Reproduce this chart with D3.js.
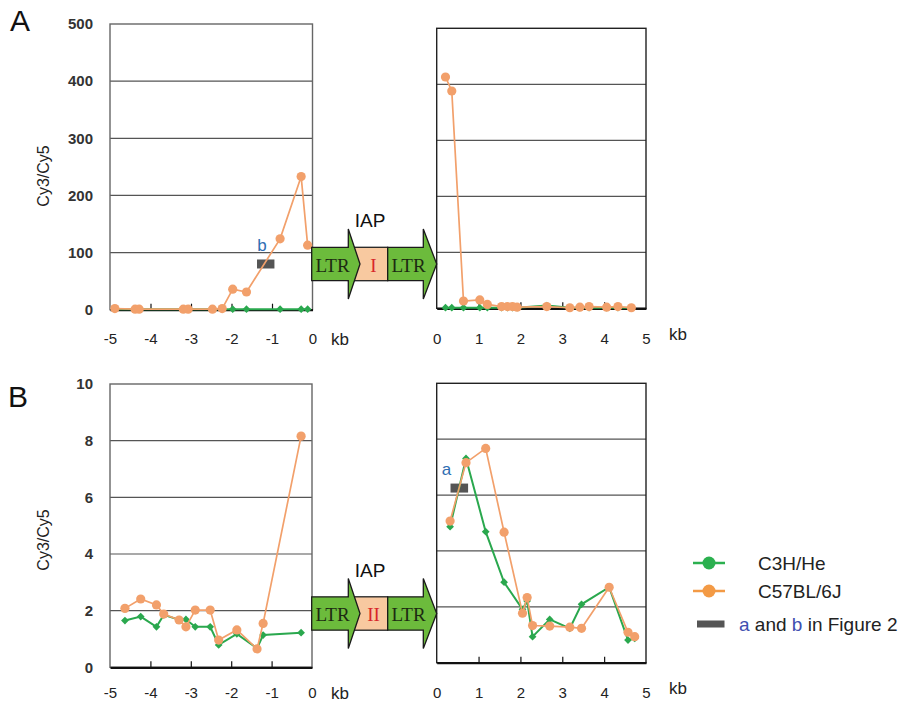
<!DOCTYPE html>
<html>
<head>
<meta charset="utf-8">
<script src="https://cdn.jsdelivr.net/npm/d3@7"></script>
<style>
  body { margin: 0; background: #fff; }
  svg { display: block; font-family: "Liberation Sans", Arial, sans-serif; }
</style>
</head>
<body>
<svg id="chart" width="906" height="703"></svg>
<script>
// panel A, upstream of the IAP (kb)
const aLeftKb  = [-4.88, -4.38, -4.28, -3.19, -3.07, -2.47, -2.23, -1.97, -1.63, -0.80, -0.28, -0.12];
const aLeftC57 = [2, 1, 1, 1, 1, 1, 2, 36, 31, 124, 233, 113];
const aLeftC3H = [1, 1, 1, 1, 1, 1, 1, 1, 1, 1, 1, 1];

// panel A, downstream
const aRightKb  = [0.21, 0.36, 0.64, 1.03, 1.21, 1.55, 1.69, 1.81, 1.92, 2.63, 3.18, 3.42, 3.64, 4.06, 4.33, 4.65];
const aRightC57 = [413, 388, 13, 15, 7, 3, 3, 3, 2, 3, 1, 2, 3, 2, 3, 1];
const aRightC3H = [1, 1, 1, 1, 1, 1, 1, 1, 1, 5, 1, 1, 1, 1, 1, 1];

// panel B, upstream
const bLeftKb  = [-4.63, -4.24, -3.85, -3.67, -3.29, -3.12, -2.89, -2.52, -2.31, -1.86, -1.36, -1.21, -0.27];
const bLeftC57 = [2.08, 2.41, 2.20, 1.88, 1.67, 1.43, 2.02, 2.02, 0.96, 1.32, 0.65, 1.55, 8.16];
const bLeftC3H = [1.65, 1.79, 1.43, 1.85, 1.68, 1.69, 1.43, 1.43, 0.79, 1.18, 0.67, 1.14, 1.22];

// panel B, downstream
const bRightKb  = [0.32, 0.70, 1.17, 1.61, 2.05, 2.16, 2.29, 2.70, 3.18, 3.46, 4.12, 4.57, 4.73];
const bRightC57 = [5.07, 7.16, 7.67, 4.67, 1.77, 2.33, 1.33, 1.31, 1.27, 1.23, 2.70, 1.09, 0.93];
const bRightC3H = [4.87, 7.31, 4.69, 2.88, 1.91, 2.21, 0.93, 1.55, 1.23, 2.09, 2.70, 0.81, 0.87];

// tick labels
const yTicksA = [0, 100, 200, 300, 400, 500];
const yTicksB = [0, 2, 4, 6, 8, 10];
const xTicksLeft = [-5, -4, -3, -2, -1, 0];
const xTicksRight = [0, 1, 2, 3, 4, 5];

// probe regions "a" and "b" (kb from, kb to, level)
const probeB = { name: 'b', x0: -1.37, x1: -0.94, y: 80 };
const probeA = { name: 'a', x0: 0.33, x1: 0.75, y: 6.25 };

const legendItems = ['C3H/He', 'C57BL/6J'];

const GREEN = '#2aa84e';
const ORANGE = '#f2a06b';
const svg = d3.select('#chart');

function drawPlot(p) {
    const x = d3.scaleLinear().domain(p.xDomain).range([p.left, p.right]);
    const y = d3.scaleLinear().domain(p.yDomain).range([p.bottom, p.top]);
    const g = svg.append('g');

    // gridlines
    g.append('g').selectAll('line')
        .data(p.yTicks.slice(1, -1))
        .join('line')
        .attr('x1', p.left).attr('x2', p.right)
        .attr('y1', d => y(d)).attr('y2', d => y(d))
        .attr('stroke', '#555').attr('stroke-width', 1.2);

    // frame
    g.append('rect')
        .attr('x', p.left).attr('y', p.top)
        .attr('width', p.right - p.left).attr('height', p.bottom - p.top)
        .attr('fill', 'none')
        .attr('stroke', p.frame).attr('stroke-width', 1.4);

    // bottom axis with inner ticks
    g.append('g')
        .attr('transform', `translate(0,${p.bottom})`)
        .call(d3.axisTop(x).tickValues(p.xTicks.slice(1, -1)).tickSize(6).tickSizeOuter(0).tickFormat(''))
        .call(a => a.select('.domain').attr('stroke', '#111').attr('stroke-width', 2.2))
        .call(a => a.selectAll('.tick line').attr('stroke', '#111').attr('stroke-width', 1.2));

    // x tick labels
    g.append('g')
        .attr('transform', `translate(0,${p.labelY - 5.5})`)
        .call(d3.axisBottom(x).tickValues(p.xTicks).tickSize(0).tickPadding(0).tickFormat(d => String(d)))
        .call(a => a.select('.domain').remove())
        .call(a => a.selectAll('text')
            .attr('font-family', '"Liberation Sans", Arial, sans-serif')
            .attr('font-size', 15).attr('fill', '#222'));

    g.append('text')
        .attr('x', p.kbX).attr('y', p.kbY)
        .attr('text-anchor', 'middle').attr('dominant-baseline', 'central')
        .attr('font-size', 17).attr('fill', '#222')
        .text('kb');

    if (p.showY) {
        g.append('g')
            .attr('transform', `translate(${p.left},0)`)
            .call(d3.axisLeft(y).tickValues(p.yTicks).tickSize(0).tickPadding(17))
            .call(a => a.select('.domain').remove())
            .call(a => a.selectAll('text')
                .attr('font-family', '"Liberation Sans", Arial, sans-serif')
                .attr('font-size', 15).attr('font-weight', 'bold').attr('fill', '#333'));

        g.append('text')
            .attr('transform', `translate(43,${p.yTitleY}) rotate(-90)`)
            .attr('text-anchor', 'middle').attr('dominant-baseline', 'central')
            .attr('font-size', 16).attr('fill', '#222')
            .text('Cy3/Cy5');
    }

    // probe bar + letter
    if (p.probe) {
        const pr = p.probe;
        g.append('rect')
            .attr('x', x(pr.x0)).attr('y', y(pr.y) - 4.5)
            .attr('width', x(pr.x1) - x(pr.x0)).attr('height', 9)
            .attr('fill', '#555');
        g.append('text')
            .attr('x', x(pr.x0) + p.probeDx).attr('y', y(pr.y) - 13)
            .attr('text-anchor', 'middle')
            .attr('font-size', 17).attr('fill', '#2f6db2')
            .text(pr.name);
    }

    const line = d3.line().x(d => x(d[0])).y(d => y(d[1]));
    const green = p.kb.map((k, i) => [k, p.c3h[i]]);
    const orange = p.kb.map((k, i) => [k, p.c57[i]]);

    g.append('path').datum(green)
        .attr('d', line).attr('fill', 'none')
        .attr('stroke', GREEN).attr('stroke-width', 2);
    g.append('g').selectAll('path')
        .data(green)
        .join('path')
        .attr('transform', d => `translate(${x(d[0])},${y(d[1])}) rotate(45)`)
        .attr('d', d3.symbol(d3.symbolSquare, 30))
        .attr('fill', GREEN);

    g.append('path').datum(orange)
        .attr('d', line).attr('fill', 'none')
        .attr('stroke', ORANGE).attr('stroke-width', 1.7);
    g.append('g').selectAll('circle')
        .data(orange)
        .join('circle')
        .attr('cx', d => x(d[0])).attr('cy', d => y(d[1]))
        .attr('r', 4.6)
        .attr('fill', ORANGE);
}

drawPlot({ xDomain: [-5, 0], yDomain: [0, 500], left: 110, right: 312.5, top: 24, bottom: 309.7,
    xTicks: xTicksLeft, yTicks: yTicksA, labelY: 339, kbX: 340, kbY: 339, showY: true, yTitleY: 176,
    frame: '#666', kb: aLeftKb, c57: aLeftC57, c3h: aLeftC3H, probe: probeB, probeDx: 5 });
drawPlot({ xDomain: [0, 5], yDomain: [0, 500], left: 436.7, right: 646, top: 28.3, bottom: 308.3,
    xTicks: xTicksRight, yTicks: yTicksA, labelY: 339, kbX: 678, kbY: 334, showY: false,
    frame: '#222', kb: aRightKb, c57: aRightC57, c3h: aRightC3H });
drawPlot({ xDomain: [-5, 0], yDomain: [0, 10], left: 110, right: 312, top: 384, bottom: 667.3,
    xTicks: xTicksLeft, yTicks: yTicksB, labelY: 693, kbX: 340, kbY: 693, showY: true, yTitleY: 540,
    frame: '#666', kb: bLeftKb, c57: bLeftC57, c3h: bLeftC3H });
drawPlot({ xDomain: [0, 5], yDomain: [0, 10], left: 436.7, right: 646, top: 383.3, bottom: 662.7,
    xTicks: xTicksRight, yTicks: yTicksB, labelY: 693, kbX: 678, kbY: 688, showY: false,
    frame: '#222', kb: bRightKb, c57: bRightC57, c3h: bRightC3H, probe: probeA, probeDx: -4 });

// panel letters
svg.append('text').attr('x', 10).attr('y', 31).attr('font-size', 30).attr('fill', '#111').text('A');
svg.append('text').attr('x', 8).attr('y', 407).attr('font-size', 30).attr('fill', '#111').text('B');

// IAP glyph: LTR arrow, internal region, LTR arrow
function drawIAP(cy, numeral) {
    const g = svg.append('g');
    const bh = 16.7, hh = 35;
    g.append('text').attr('x', 370).attr('y', cy - 37)
        .attr('text-anchor', 'middle').attr('font-size', 19).attr('fill', '#111').text('IAP');
    g.append('rect').attr('x', 348.3).attr('y', cy - bh).attr('width', 39.4).attr('height', 2 * bh)
        .attr('fill', '#f8c9a0').attr('stroke', '#222').attr('stroke-width', 1.3);
    const arrow = (x0, x1, tip) => [[x0, cy - bh], [x1, cy - bh], [x1, cy - hh], [tip, cy],
        [x1, cy + hh], [x1, cy + bh], [x0, cy + bh]];
    [[311.7, 348.3, 360], [387.7, 423.3, 436.7]].forEach(a => {
        g.append('path')
            .attr('d', d3.line()(arrow(a[0], a[1], a[2])) + 'Z')
            .attr('fill', '#6cbb3c').attr('stroke', '#1a1a1a').attr('stroke-width', 1.3);
    });
    const serif = '"Liberation Serif", "Times New Roman", serif';
    [[332.5, 'LTR', '#1c2a12'], [408.5, 'LTR', '#1c2a12'], [373.5, numeral, '#d8262a']].forEach(t => {
        g.append('text').attr('x', t[0]).attr('y', cy + 1)
            .attr('text-anchor', 'middle').attr('dominant-baseline', 'central')
            .attr('font-family', serif).attr('font-size', 19).attr('fill', t[2]).text(t[1]);
    });
}
drawIAP(264, 'I');
drawIAP(613.5, 'II');

// legend
const legend = svg.append('g');
legendItems.forEach((name, i) => {
    const ly = 563 + i * 28;
    const col = i === 0 ? '#2bb04f' : '#f39a45';
    legend.append('line').attr('x1', 693).attr('x2', 725).attr('y1', ly).attr('y2', ly)
        .attr('stroke', col).attr('stroke-width', 2.5);
    legend.append('circle').attr('cx', 709).attr('cy', ly).attr('r', 6.5).attr('fill', col);
    legend.append('text').attr('x', 758).attr('y', ly).attr('dominant-baseline', 'central')
        .attr('font-size', 19).attr('fill', '#222').text(name);
});
legend.append('rect').attr('x', 697).attr('y', 620.5).attr('width', 27.5).attr('height', 7).attr('fill', '#555');
const lt = legend.append('text').attr('x', 739).attr('y', 624).attr('dominant-baseline', 'central')
    .attr('font-size', 19).attr('fill', '#222');
lt.append('tspan').attr('fill', '#3f4fb0').text('a');
lt.append('tspan').text(' and ');
lt.append('tspan').attr('fill', '#3f4fb0').text('b');
lt.append('tspan').text(' in Figure 2');
</script>
</body>
</html>
